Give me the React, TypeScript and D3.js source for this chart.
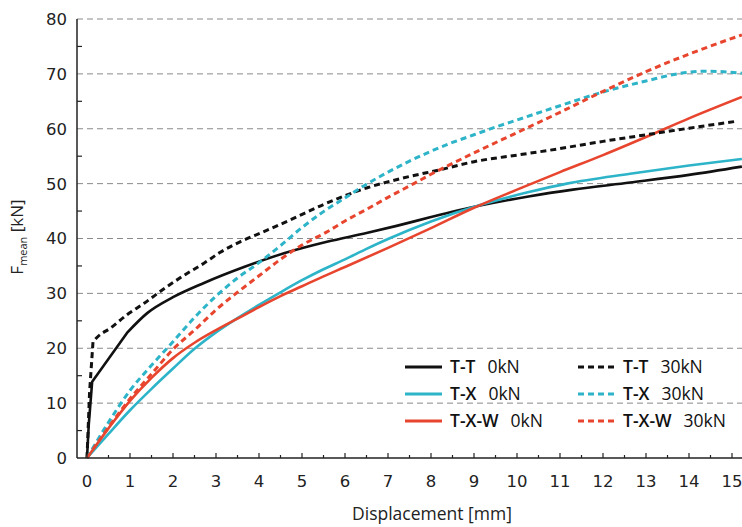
import React from 'react';
import * as d3 from 'd3';

// Mean force vs displacement, sampled as [displacement mm, force kN]
const ttZero: [number, number][] = [
  [0, 0], [0.04, 6], [0.12, 13.9], [0.93, 22.8], [1.4, 26.4], [2, 29.3], [2.72, 31.9],
  [3.65, 34.8], [4.58, 37.3], [5.58, 39.4], [6.5, 41.0], [7.2, 42.3], [8, 43.9],
  [9.14, 46.0], [10.3, 47.7], [11.3, 48.9], [12.63, 50.2], [14, 51.6], [15.23, 53.1],
];
const txZero: [number, number][] = [
  [0, 0], [0.5, 4.4], [1, 8.7], [1.5, 12.6], [2, 16.3], [2.5, 19.9], [3, 22.9], [3.5, 25.5],
  [4, 27.9], [4.5, 30.2], [5, 32.4], [5.5, 34.4], [6, 36.2], [6.5, 38.1], [7, 39.9], [8, 43.1],
  [9.14, 46.1], [10.3, 48.5], [11.16, 50], [12.63, 51.8], [14, 53.3], [15.23, 54.5],
];
const txwZero: [number, number][] = [
  [0, 0], [0.5, 5.4], [1, 10.4], [1.5, 14.6], [2, 18.2], [2.5, 21.0], [3, 23.3], [3.5, 25.4],
  [4, 27.5], [4.5, 29.5], [5, 31.3], [5.5, 33.1], [6, 34.8], [7, 38.3], [8, 41.9],
  [9, 45.6], [10, 48.9], [11, 52.1], [12, 55.2], [13, 58.5], [14, 61.9], [15.23, 65.8],
];
const ttThirty: [number, number][] = [
  [0, 0], [0.06, 12], [0.14, 21.2], [0.25, 22.1], [0.55, 23.7], [0.93, 26.1], [1.33, 28.2],
  [1.8, 30.9], [2.26, 33.3], [2.72, 35.5], [3.1, 37.5], [3.56, 39.4], [4.1, 41.2],
  [4.73, 43.4], [5.5, 46.2], [6.5, 49.2], [7.5, 51.3], [8.2, 52.5], [9, 54], [10, 55.2],
  [10.77, 56.1], [12, 57.7], [13, 58.9], [14, 60.1], [15.05, 61.3],
];
const txThirty: [number, number][] = [
  [0, 0], [0.5, 6.5], [1, 12.3], [1.5, 16.9], [2, 21.2], [2.5, 25.6], [3, 29.5], [3.5, 32.8],
  [4, 35.6], [4.5, 38.7], [5, 42.0], [5.5, 44.9], [6, 47.4], [6.5, 49.9], [7, 52.1],
  [7.5, 54.1], [8, 55.9], [8.5, 57.5], [9, 58.9], [9.5, 60.3], [10, 61.6], [11, 64.2],
  [12, 66.7], [13, 68.7], [13.8, 70.1], [14.4, 70.5], [15.23, 70.1],
];
const txwThirty: [number, number][] = [
  [0, 0], [0.5, 5.6], [1, 10.8], [1.5, 15.3], [2, 19.8], [2.5, 23.3], [3, 27], [3.5, 30.2],
  [4, 33.2], [4.5, 36.2], [5, 38.8], [5.58, 41.2], [6, 43.2], [6.5, 45.3], [7, 47.5],
  [7.6, 50.0], [8, 51.7], [9, 55.6], [10, 59.3], [11, 63.0], [12, 66.8], [13, 70.4],
  [14, 73.6], [15.23, 77.1],
];

const specimenNames = ['T-T', 'T-X', 'T-X-W'];
const loadLabels = ['0kN', '30kN'];
const xTickValues = d3.range(0, 16);
const yTickValues = d3.range(0, 90, 10);

const palette: Record<string, string> = {
  'T-T': '#111111',
  'T-X': '#2db4c8',
  'T-X-W': '#e8452f',
};

// `knee`: displacement up to which the curve is drawn as straight segments
const series = [
  { name: 'T-T', load: '0kN', data: ttZero, knee: 0.93 },
  { name: 'T-X', load: '0kN', data: txZero, knee: 0 },
  { name: 'T-X-W', load: '0kN', data: txwZero, knee: 0 },
  { name: 'T-T', load: '30kN', data: ttThirty, knee: 0.14 },
  { name: 'T-X', load: '30kN', data: txThirty, knee: 0 },
  { name: 'T-X-W', load: '30kN', data: txwThirty, knee: 0 },
];

const W = 742;
const H = 527;
const axisX = 77;
const axisY = 458;
const plotRight = 742;

const tickFont = '"DejaVu Sans", sans-serif';
const textFont = '"Open Sans", sans-serif';

export default function App() {
  const x = d3.scaleLinear().domain([0, 15]).range([87, 732]);
  const y = d3.scaleLinear().domain([0, 80]).range([axisY, 19]);

  const straight = d3
    .line<[number, number]>()
    .x((d) => x(d[0]))
    .y((d) => y(d[1]))
    .curve(d3.curveLinear);
  const smooth = d3
    .line<[number, number]>()
    .x((d) => x(d[0]))
    .y((d) => y(d[1]))
    .curve(d3.curveMonotoneX);

  const pathFor = (data: [number, number][], knee: number) => {
    if (knee <= 0) return smooth(data) || '';
    const head = data.filter((d) => d[0] <= knee);
    const tail = data.filter((d) => d[0] >= knee);
    const tailPath = (smooth(tail) || '').replace(/^M[^A-Za-z]*/, '');
    return (straight(head) || '') + tailPath;
  };

  const minorY = d3.range(5, 80, 10);
  const xSmallTicks = d3.range(0, 15.01, 0.5);

  return (
    <svg
      width={W}
      height={H}
      style={{ position: 'absolute', left: 0, top: 0, background: '#fff' }}
    >
      {/* horizontal grid */}
      {yTickValues
        .filter((v) => v > 0)
        .map((v) => (
          <line
            key={`g${v}`}
            x1={axisX}
            x2={plotRight}
            y1={y(v)}
            y2={y(v)}
            stroke="#8a8a8a"
            strokeWidth={1}
            strokeDasharray="6,4"
          />
        ))}

      {/* series */}
      {series.map((s, i) => (
        <path
          key={`s${i}`}
          d={pathFor(s.data, s.knee)}
          fill="none"
          stroke={palette[s.name]}
          strokeWidth={s.load === '0kN' ? 2.6 : 3}
          strokeLinejoin="round"
          strokeDasharray={s.load === '0kN' ? undefined : '6,4'}
        />
      ))}

      {/* axes */}
      <line x1={axisX} x2={axisX} y1={y(80)} y2={axisY} stroke="#222" strokeWidth={1.5} />
      <line x1={axisX} x2={plotRight} y1={axisY} y2={axisY} stroke="#222" strokeWidth={1.5} />
      {minorY.map((v) => (
        <line key={`my${v}`} x1={axisX} x2={axisX + 5} y1={y(v)} y2={y(v)} stroke="#222" strokeWidth={1.2} />
      ))}
      {xSmallTicks.map((v) => (
        <line
          key={`xt${v}`}
          x1={x(v)}
          x2={x(v)}
          y1={axisY}
          y2={axisY - (Number.isInteger(v) ? 5 : 3)}
          stroke="#222"
          strokeWidth={1.2}
        />
      ))}

      {/* tick labels */}
      {yTickValues.map((v) => (
        <text
          key={`yl${v}`}
          x={67}
          y={y(v)}
          dy="0.36em"
          textAnchor="end"
          fontFamily={tickFont}
          fontSize={16.5}
          fill="#222"
        >
          {v}
        </text>
      ))}
      {xTickValues.map((v) => (
        <text
          key={`xl${v}`}
          x={x(v)}
          y={487}
          textAnchor="middle"
          fontFamily={tickFont}
          fontSize={16.5}
          fill="#222"
        >
          {v}
        </text>
      ))}

      {/* axis titles */}
      <text x={432} y={520} textAnchor="middle" fontFamily={textFont} fontSize={17.5} fill="#222">
        Displacement [mm]
      </text>
      <text
        transform="translate(23,237) rotate(-90)"
        textAnchor="middle"
        fontFamily={textFont}
        fontSize={17}
        fill="#222"
      >
        F
        <tspan fontSize={11} dy={4}>
          mean
        </tspan>
        <tspan dy={-4}> [kN]</tspan>
      </text>

      {/* legend */}
      {loadLabels.map((load, col) =>
        specimenNames.map((name, row) => {
          const lx = col === 0 ? 405 : 578;
          const ly = 367 + row * 27;
          return (
            <g key={`lg${col}${row}`}>
              <line
                x1={lx}
                x2={lx + 37}
                y1={ly}
                y2={ly}
                stroke={palette[name]}
                strokeWidth={3}
                strokeDasharray={col === 0 ? undefined : '6,4'}
              />
              <text
                x={lx + 45}
                y={ly + 6}
                fontFamily={textFont}
                fontSize={17.5}
                fill="#111"
              >
                <tspan fontWeight={600}>{name}</tspan>
                <tspan dx={12}>{load}</tspan>
              </text>
            </g>
          );
        })
      )}
    </svg>
  );
}
